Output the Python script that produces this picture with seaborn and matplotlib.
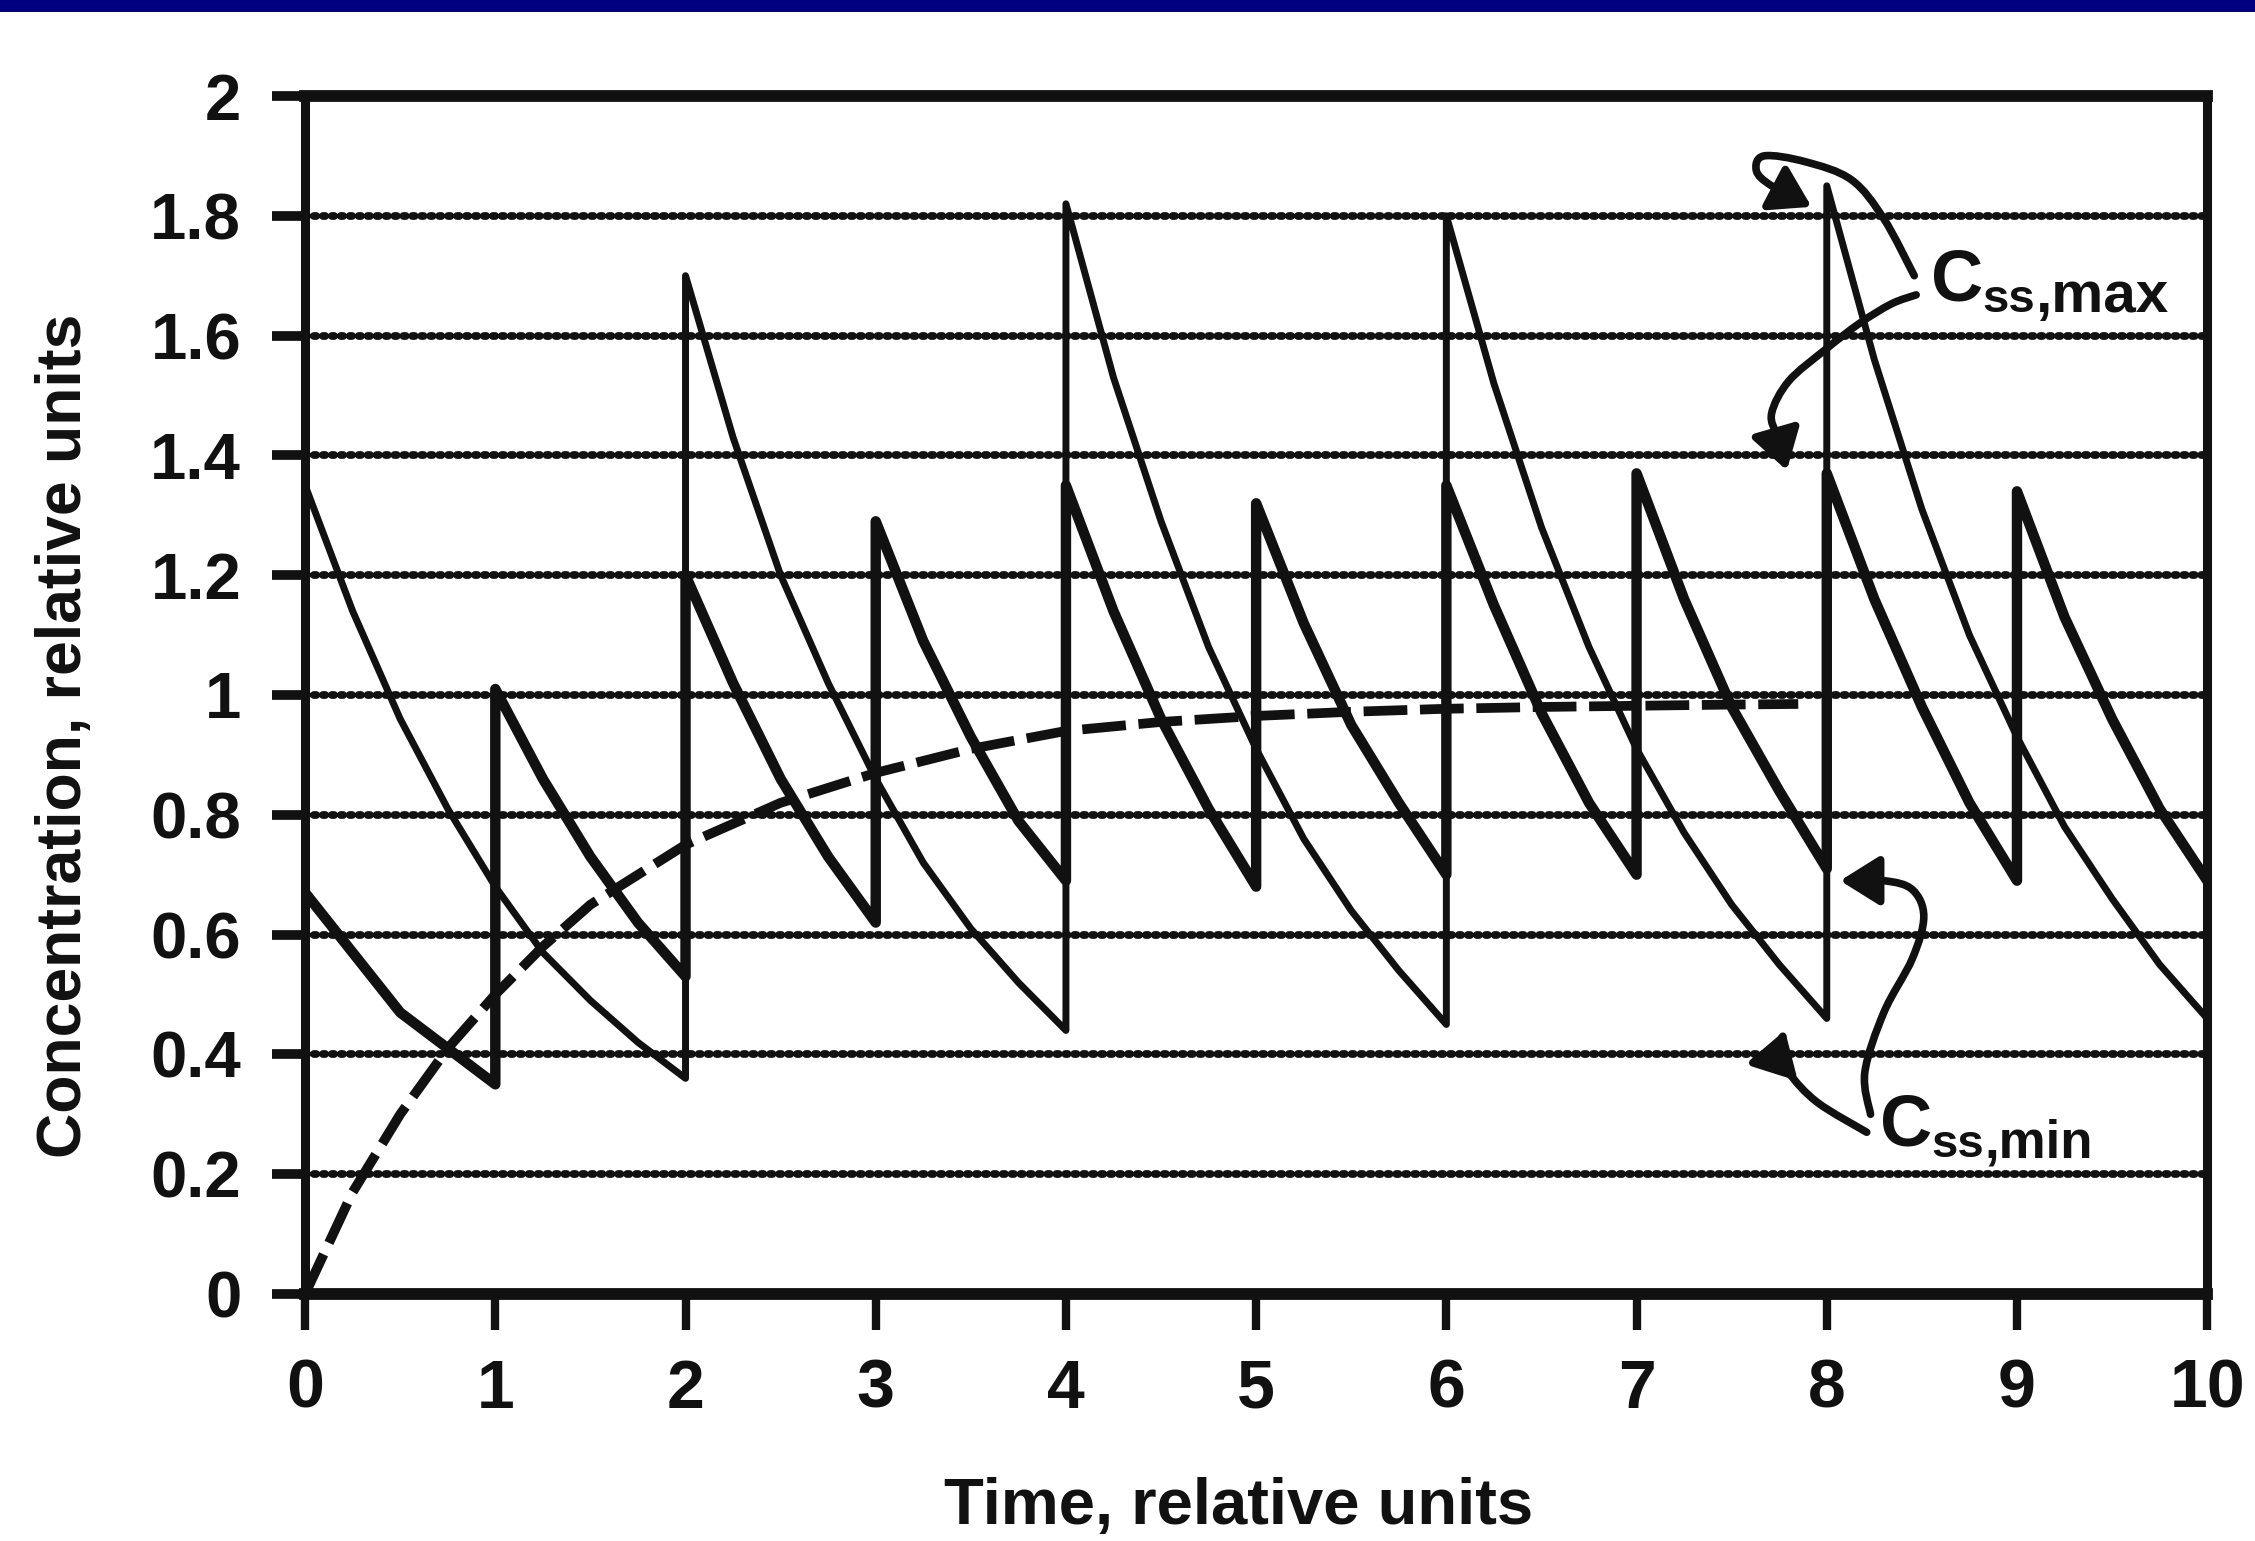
import numpy as np
import pandas as pd
import matplotlib
matplotlib.use("Agg")
import matplotlib.pyplot as plt
from matplotlib.path import Path
from matplotlib.patches import FancyArrowPatch, Rectangle
import seaborn as sns

# Larger dose given every 2 time units
q2_time = [0, 0.25, 0.5, 0.75, 1, 1.25, 1.5, 1.75, 2,
           2, 2.25, 2.5, 2.75, 3, 3.25, 3.5, 3.75, 4,
           4, 4.25, 4.5, 4.75, 5, 5.25, 5.5, 5.75, 6,
           6, 6.25, 6.5, 6.75, 7, 7.25, 7.5, 7.75, 8,
           8, 8.25, 8.5, 8.75, 9, 9.25, 9.5, 9.75, 10]
q2_conc = [1.35, 1.14, 0.96, 0.81, 0.68, 0.57, 0.49, 0.42, 0.36,
           1.70, 1.43, 1.20, 1.02, 0.86, 0.72, 0.61, 0.52, 0.44,
           1.82, 1.53, 1.29, 1.08, 0.91, 0.76, 0.64, 0.54, 0.45,
           1.80, 1.52, 1.28, 1.08, 0.91, 0.77, 0.65, 0.55, 0.46,
           1.85, 1.56, 1.31, 1.10, 0.93, 0.78, 0.66, 0.55, 0.46]

# Half the dose given every time unit
q1_time = [0, 0.25, 0.5, 0.75, 1,
           1, 1.25, 1.5, 1.75, 2,
           2, 2.25, 2.5, 2.75, 3,
           3, 3.25, 3.5, 3.75, 4,
           4, 4.25, 4.5, 4.75, 5,
           5, 5.25, 5.5, 5.75, 6,
           6, 6.25, 6.5, 6.75, 7,
           7, 7.25, 7.5, 7.75, 8,
           8, 8.25, 8.5, 8.75, 9,
           9, 9.25, 9.5, 9.75, 10]
q1_conc = [0.67, 0.57, 0.47, 0.41, 0.35,
           1.01, 0.86, 0.73, 0.62, 0.53,
           1.20, 1.02, 0.86, 0.73, 0.62,
           1.29, 1.09, 0.93, 0.79, 0.69,
           1.35, 1.14, 0.96, 0.81, 0.68,
           1.32, 1.12, 0.95, 0.82, 0.70,
           1.35, 1.15, 0.97, 0.82, 0.70,
           1.37, 1.16, 0.98, 0.84, 0.71,
           1.37, 1.16, 0.98, 0.82, 0.69,
           1.34, 1.13, 0.96, 0.81, 0.69]

# Constant-rate infusion
inf_time = [0, 0.25, 0.5, 0.75, 1, 1.25, 1.5, 1.75, 2, 2.5, 3, 3.5,
            4, 4.5, 5, 5.5, 6, 6.5, 7, 7.5, 7.85]
inf_conc = [0, 0.17, 0.30, 0.41, 0.50, 0.58, 0.65, 0.70, 0.75, 0.82,
            0.87, 0.91, 0.94, 0.955, 0.965, 0.972, 0.977, 0.98, 0.982,
            0.984, 0.985]

x_ticks = list(range(11))
y_ticks = [0, 0.2, 0.4, 0.6, 0.8, 1.0, 1.2, 1.4, 1.6, 1.8, 2.0]
y_tick_labels = ["0", "0.2", "0.4", "0.6", "0.8", "1",
                 "1.2", "1.4", "1.6", "1.8", "2"]

INK = "#111111"

sns.set_theme(style="white")
plt.rcParams["font.family"] = ["Liberation Sans", "DejaVu Sans"]
plt.rcParams["font.weight"] = "bold"
plt.rcParams["lines.dash_capstyle"] = "round"
plt.rcParams["lines.solid_capstyle"] = "round"

fig = plt.figure(figsize=(22.55, 15.41), dpi=100)
fig.patch.set_facecolor("white")
fig.add_artist(Rectangle((0, 1 - 12 / 1541), 1, 12 / 1541,
                         transform=fig.transFigure, color="#000080", lw=0))

ax = fig.add_axes([0.1353, 0.1603, 0.8435, 0.7774])
ax.set_facecolor("white")
ax.set_xlim(0, 10)
ax.set_ylim(0, 2)

# beaded horizontal rules
ax.set_yticks(y_ticks)
ax.set_yticklabels(y_tick_labels)
ax.set_xticks(x_ticks)
ax.set_xticklabels([str(v) for v in x_ticks])
ax.yaxis.grid(True, linestyle=(0, (0.3, 0.85)), linewidth=5.6,
              color=INK, dash_capstyle="round", zorder=1)
ax.xaxis.grid(False)
ax.set_axisbelow(True)

df_q2 = pd.DataFrame({"t": q2_time, "c": q2_conc})
df_q1 = pd.DataFrame({"t": q1_time, "c": q1_conc})
df_inf = pd.DataFrame({"t": inf_time, "c": inf_conc})

sns.lineplot(data=df_q2, x="t", y="c", estimator=None, sort=False,
             color=INK, linewidth=5.0, ax=ax, zorder=3)
sns.lineplot(data=df_q1, x="t", y="c", estimator=None, sort=False,
             color=INK, linewidth=7.5, ax=ax, zorder=3)
sns.lineplot(data=df_inf, x="t", y="c", estimator=None, sort=False,
             color=INK, linewidth=7.0, linestyle=(0, (4.5, 1.3)),
             dash_capstyle="butt", ax=ax, zorder=3)

for s in ["top", "bottom"]:
    ax.spines[s].set_linewidth(8.5)
for s in ["left", "right"]:
    ax.spines[s].set_linewidth(6.5)
for s in ax.spines.values():
    s.set_color(INK)
    s.set_zorder(4)

ax.tick_params(axis="y", which="major", left=True, right=False,
               direction="out", length=24, width=7, pad=22,
               labelsize=47, color=INK, labelcolor=INK)
ax.tick_params(axis="x", which="major", bottom=True, top=False,
               direction="out", length=26, width=6, pad=20,
               labelsize=49, color=INK, labelcolor=INK)

ax.set_xlabel("Time, relative units", fontsize=47, fontweight="bold",
              color=INK)
ax.xaxis.set_label_coords(0.491, -0.192)
ax.xaxis.label.set_va("baseline")

ax.set_ylabel("Concentration, relative units", fontsize=45,
              fontweight="bold", color=INK)
ax.yaxis.label.set_rotation_mode("anchor")
ax.yaxis.label.set_ha("center")
ax.yaxis.label.set_va("baseline")
ax.yaxis.set_label_coords(-0.118, 0.466)


def smooth_path(points):
    pts = np.asarray(points, dtype=float)
    n = len(pts)
    verts = [pts[0]]
    codes = [Path.MOVETO]
    for i in range(n - 1):
        p0 = pts[i - 1] if i > 0 else pts[i]
        p1 = pts[i]
        p2 = pts[i + 1]
        p3 = pts[i + 2] if i + 2 < n else pts[i + 1]
        verts += [p1 + (p2 - p0) / 6, p2 - (p3 - p1) / 6, p2]
        codes += [Path.CURVE4] * 3
    return Path(verts, codes)


def curved_arrow(points):
    arrow = FancyArrowPatch(
        path=smooth_path(points),
        arrowstyle="-|>,head_length=0.8,head_width=0.5",
        mutation_scale=30, linewidth=5.5, color=INK,
        joinstyle="round", capstyle="round", zorder=5)
    ax.add_patch(arrow)


# labels for the steady-state peak and trough
ax.text(8.55, 1.69, "C", fontsize=52, ha="left", va="center", color=INK)
ax.text(8.82, 1.64, "ss", fontsize=34, ha="left", va="baseline", color=INK)
ax.text(9.10, 1.64, ",max", fontsize=42, ha="left", va="baseline",
        color=INK)

ax.text(8.28, 0.28, "C", fontsize=52, ha="left", va="center", color=INK)
ax.text(8.55, 0.228, "ss", fontsize=34, ha="left", va="baseline",
        color=INK)
ax.text(8.83, 0.228, ",min", fontsize=38, ha="left", va="baseline",
        color=INK)

curved_arrow([(8.46, 1.70), (8.30, 1.795), (8.13, 1.86), (7.89, 1.89),
              (7.67, 1.90), (7.63, 1.875), (7.71, 1.85), (7.92, 1.815)])
curved_arrow([(8.47, 1.668), (8.34, 1.653), (8.17, 1.62), (7.99, 1.576),
              (7.80, 1.524), (7.71, 1.47), (7.74, 1.43), (7.79, 1.375)])
curved_arrow([(8.21, 0.27), (7.95, 0.32), (7.80, 0.37), (7.75, 0.41),
              (7.78, 0.44)])
curved_arrow([(8.23, 0.30), (8.20, 0.37), (8.30, 0.47), (8.45, 0.56),
              (8.51, 0.63), (8.45, 0.675), (8.30, 0.69), (8.07, 0.69)])

fig.savefig("out.png", dpi=100, facecolor="white")
